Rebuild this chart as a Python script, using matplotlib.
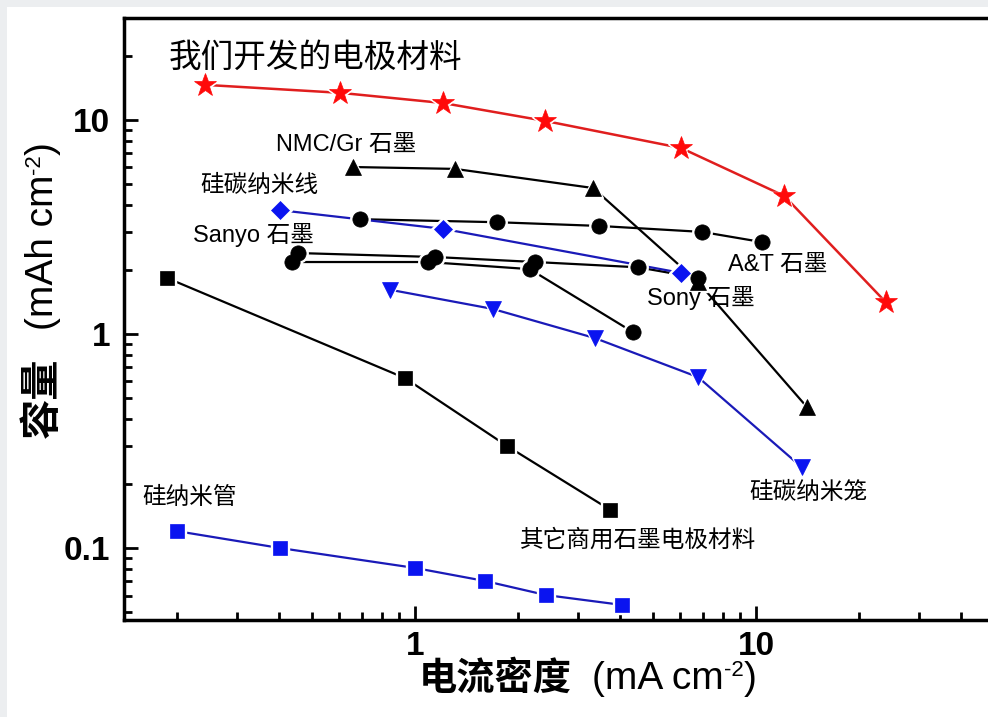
import matplotlib.pyplot as plt
from matplotlib.patches import Rectangle

# 电流密度 (mA cm-2) 与 容量 (mAh cm-2)
ours_x = [0.242, 0.603, 1.21, 2.41, 6.03, 12.1, 24.0]
ours_y = [14.6, 13.4, 12.0, 9.9, 7.4, 4.42, 1.41]

nmc_x = [0.658, 1.31, 3.33, 6.76, 14.1]
nmc_y = [6.03, 5.91, 4.81, 1.75, 0.456]

sicnw_x = [0.402, 1.21, 6.03]
sicnw_y = [3.79, 3.10, 1.93]

at_x = [0.690, 1.74, 3.46, 6.95, 10.4]
at_y = [3.44, 3.33, 3.20, 3.00, 2.69]

sony_x = [0.454, 1.145, 2.25, 4.51, 6.76]
sony_y = [2.39, 2.29, 2.17, 2.05, 1.83]

sanyo_x = [0.436, 1.09, 2.17, 4.36]
sanyo_y = [2.17, 2.17, 2.01, 1.02]

sicnc_x = [0.845, 1.69, 3.37, 6.76, 13.6]
sicnc_y = [1.61, 1.31, 0.957, 0.629, 0.239]

other_x = [0.187, 0.935, 1.86, 3.73]
other_y = [1.83, 0.622, 0.300, 0.151]

sint_x = [0.200, 0.402, 1.0, 1.60, 2.42, 4.05]
sint_y = [0.120, 0.100, 0.0807, 0.0702, 0.0603, 0.0542]

FONT = ['Liberation Sans', 'Noto Sans CJK SC', 'DejaVu Sans']
plt.rcParams['font.family'] = FONT

W, H = 988, 717
fig = plt.figure(figsize=(W / 100, H / 100), dpi=100, facecolor='#eceef0')
fig.patches.append(Rectangle((7 / W, 0), 1, 1 - 7 / H, transform=fig.transFigure,
                             facecolor='white', edgecolor='none', zorder=-10))

ax = fig.add_axes([124 / W, 1 - 620 / H, (1010 - 124) / W, (620 - 18) / H])
ax.set_zorder(1)
ax.set_facecolor('white')
ax.set_xscale('log')
ax.set_yscale('log')
ax.set_xlim(0.1401, 10 ** ((1010 - 415) / 341))
ax.set_ylim(0.0461, 29.97)


def serie(x, y, color, marker, ms, lcolor=None, lw=1.6):
    ax.plot(x, y, color=lcolor or color, lw=lw, zorder=2)
    ax.plot(x, y, ls='none', marker=marker, ms=ms + 3, mfc='white', mec='white', zorder=3)
    ax.plot(x, y, ls='none', marker=marker, ms=ms, mfc=color, mec=color, mew=0.5, zorder=4)


serie(ours_x, ours_y, '#ff0a0a', '*', 17, lcolor='#e01e1e', lw=1.8)
serie(nmc_x, nmc_y, 'black', '^', 12)
serie(at_x, at_y, 'black', 'o', 11)
serie(sony_x, sony_y, 'black', 'o', 11)
serie(sanyo_x, sanyo_y, 'black', 'o', 11)
serie(sicnw_x, sicnw_y, '#0a14f0', 'D', 9, lcolor='#1a1ab8')
serie(sicnc_x, sicnc_y, '#0a14f0', 'v', 12, lcolor='#1a1ab8')
serie(other_x, other_y, 'black', 's', 9.5)
serie(sint_x, sint_y, '#0a14f0', 's', 10, lcolor='#1a1ab8')

# 标注
small = 17
ax.text(0.189, 19.5, '我们开发的电极材料', fontsize=23.5, ha='left', va='center')
ax.text(0.391, 7.64, 'NMC/Gr 石墨', fontsize=small, ha='left', va='center')
ax.text(0.234, 4.92, '硅碳纳米线', fontsize=small, ha='left', va='center')
ax.text(0.223, 2.90, 'Sanyo 石墨', fontsize=small, ha='left', va='center')
ax.text(8.28, 2.10, 'A&T 石墨', fontsize=small, ha='left', va='center')
ax.text(4.79, 1.47, 'Sony 石墨', fontsize=small, ha='left', va='center')
ax.text(9.53, 0.181, '硅碳纳米笼', fontsize=small, ha='left', va='center')
ax.text(2.03, 0.109, '其它商用石墨电极材料', fontsize=small, ha='left', va='center')
ax.text(0.159, 0.171, '硅纳米管', fontsize=small, ha='left', va='center')

# 坐标轴
for side in ['left', 'bottom', 'top', 'right']:
    ax.spines[side].set_linewidth(2.5)
ax.tick_params(which='both', direction='in', top=False, right=False, width=2)
ax.tick_params(which='major', length=10, pad=10, labelsize=24)
ax.tick_params(which='minor', length=6)
ax.tick_params(axis='x', which='major', pad=8)
ax.set_xticks([1, 10])
ax.set_xticklabels(['1', '10'])
ax.set_yticks([0.1, 1, 10])
ax.set_yticklabels(['0.1', '1', '10'])
ax.xaxis.set_minor_formatter(plt.NullFormatter())
ax.yaxis.set_minor_formatter(plt.NullFormatter())
for lab in ax.get_xticklabels() + ax.get_yticklabels():
    lab.set_fontweight('bold')

# 轴标题: 中文加粗, 单位分段写, 上标用小号字
fig.text(572 / W, 1 - 679 / H, '电流密度', fontsize=27.5, fontweight='bold',
         ha='right', va='center')
xu = fig.text(592 / W, 1 - 679 / H, '(mA cm', fontsize=28, ha='left', va='center')
xs = ax.annotate('-2', xy=(1.0, 1.04), xycoords=xu, fontsize=16,
                 ha='left', va='top', annotation_clip=False)
ax.annotate(')', xy=(1.0, 0.5), xycoords=(xs, xu), fontsize=28,
            ha='left', va='center', annotation_clip=False)

fig.text(43 / W, 1 - 438 / H, '容量', fontsize=29, fontweight='bold',
         rotation=90, ha='center', va='bottom')
yu = fig.text(43 / W, 1 - 330 / H, '(mAh cm', fontsize=28,
              rotation=90, ha='center', va='bottom')
ys = ax.annotate('-2', xy=(-0.04, 1.0), xycoords=yu, fontsize=16, rotation=90,
                 ha='left', va='bottom', annotation_clip=False)
ax.annotate(')', xy=(0.5, 1.0), xycoords=(yu, ys), fontsize=28, rotation=90,
            ha='center', va='bottom', annotation_clip=False)

fig.savefig('out.png', dpi=100, facecolor=fig.get_facecolor())
